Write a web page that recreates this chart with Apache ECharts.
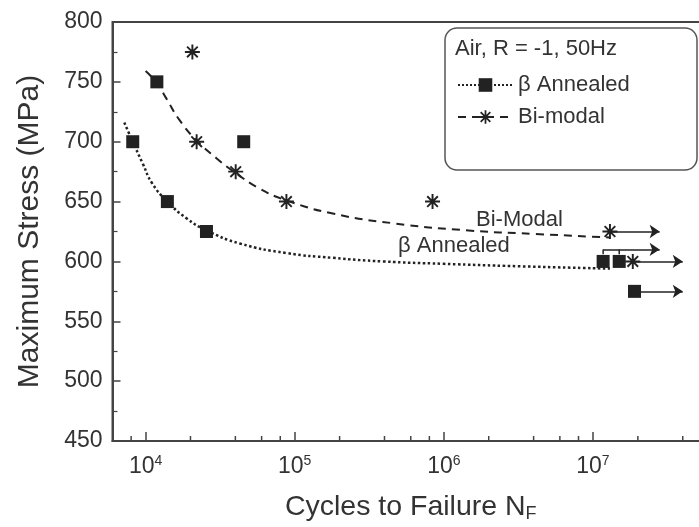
<!DOCTYPE html>
<html><head><meta charset="utf-8">
<script src="https://cdn.jsdelivr.net/npm/echarts@6/dist/echarts.min.js"></script>
<style>html,body{margin:0;padding:0;background:#fff}#c{width:699px;height:527px}</style>
</head><body><div id="c"></div>
<script>
// Measured points
const betaPoints = [[8200,700],[11900,750],[14000,650],[25600,625],[45500,700],[11700000,600],[15000000,600],[19000000,575]];
const bimodalPoints = [[20600,775],[22000,700],[40200,675],[88000,650],[840000,650],[13000000,625],[18500000,600]];
// Fit curves
const betaCurve = [[7200,716],[8200,700],[9550,682],[11100,665],[14000,650],[18800,636],[25600,626],[42800,615],[88000,607],[180000,603],[390000,600],[1000000,598],[3100000,596],[13000000,594]];
const bimodalCurve = [[10000,759],[11900,749],[13800,736],[16900,718],[22000,701],[30000,686],[40000,674],[58000,661],[88000,651],[180000,640],[450000,632],[1400000,626],[4000000,623],[13000000,620]];
// Run-out arrows
const runoutArrows = [
  [[13000000,625],[28000000,625]],
  [[11700000,610],[28000000,610]],
  [[18500000,600],[40000000,600]],
  [[19000000,575],[40000000,575]]
];
const runoutRisers = [
  [[11700000,606],[11700000,610]],
  [[15000000,606],[15000000,610]]
];
const minorX = [8000,20000,40000,60000,80000,200000,400000,600000,800000,2000000,4000000,6000000,8000000,20000000,40000000];
const yTicks = {min:450,max:800,step:50};

const FONT = 'Liberation Sans, Arial, sans-serif';
const INK = '#222';
const star = 'path://M-1.3,-10L1.3,-10L1.3,10L-1.3,10Z M-10,-1.3L10,-1.3L10,1.3L-10,1.3Z M-6.2,-8L8,6.2L6.2,8L-8,-6.2Z M6.2,-8L8,-6.2L-6.2,8L-8,6.2Z M-3,-3L3,-3L3,3L-3,3Z';

const chart = echarts.init(document.getElementById('c'));
chart.setOption({
  animation:false,
  backgroundColor:'#fff',
  grid:{left:112.5, top:22, right:-10, bottom:86, containLabel:false, outerBoundsMode:'none',
    show:true, borderColor:'#444', borderWidth:2, backgroundColor:'transparent'},
  xAxis:{type:'log', min:6000, max:60000000, logBase:10,
    name:'{a|Cycles to Failure N}{s|F}', nameLocation:'middle', nameGap:50,
    nameTextStyle:{rich:{a:{fontSize:28.5,fontFamily:FONT,color:'#333'}, s:{fontSize:18,fontFamily:FONT,color:'#333',padding:[14,0,0,0]}}},
    axisLine:{lineStyle:{color:'#444',width:2}},
    axisTick:{inside:true,length:9,lineStyle:{color:'#444',width:1.5}},
    splitLine:{show:false}, minorTick:{show:false},
    axisLabel:{margin:13, showMinLabel:false, showMaxLabel:false,
      formatter:function(v){const e=Math.log10(v); if(Math.abs(e-Math.round(e))>1e-6) return ''; return '{b|10}{s|'+Math.round(e)+'}';},
      rich:{b:{fontSize:23,fontFamily:FONT,color:'#333'}, s:{fontSize:14,fontFamily:FONT,color:'#333',padding:[0,0,12,0]}}}
  },
  yAxis:{type:'value', min:yTicks.min, max:yTicks.max, interval:yTicks.step,
    name:'Maximum Stress (MPa)', nameLocation:'middle', nameGap:68,
    nameTextStyle:{fontSize:30,fontFamily:FONT,color:'#333'},
    axisLine:{show:true,lineStyle:{color:'#444',width:2}},
    axisTick:{inside:true,length:8,lineStyle:{color:'#444',width:1.5}},
    minorTick:{show:true,splitNumber:2,length:5,lineStyle:{color:'#444',width:1.2}},
    splitLine:{show:false},
    axisLabel:{margin:10,fontSize:23,fontFamily:FONT,color:'#333'}
  },
  legend:{data:['β Annealed','Bi-modal'], orient:'vertical', left:452, top:69, padding:5,
    itemWidth:55, itemHeight:17, itemGap:10,
    textStyle:{fontSize:22,fontFamily:FONT,color:'#333'}},
  graphic:[
    {type:'rect', shape:{x:445,y:28,width:252,height:142,r:12}, style:{fill:'none',stroke:'#555',lineWidth:1.5}, z:10},
    {type:'text', left:455, top:38, style:{text:'Air, R = -1, 50Hz', font:'22px '+FONT, fill:'#333'}, z:10},
    {type:'text', left:476, top:209, style:{text:'Bi-Modal', font:'22px '+FONT, fill:'#333'}, z:10},
    {type:'text', left:398, top:235, style:{text:'β Annealed', font:'22px '+FONT, fill:'#333'}, z:10}
  ],
  series:[
    {name:'β Annealed', type:'line', data:betaCurve, smooth:0.5, showSymbol:false, symbol:'rect', color:INK,
      lineStyle:{type:'dotted', width:2.5, color:INK}, z:3},
    {name:'Bi-modal', type:'line', data:bimodalCurve, smooth:0.5, showSymbol:false, symbol:star, color:INK,
      lineStyle:{type:[8,6], width:2, color:INK}, z:3},
    {name:'β pts', type:'scatter', data:betaPoints, symbol:'rect', symbolSize:13, itemStyle:{color:INK,opacity:1}, z:5},
    {name:'Bi pts', type:'scatter', data:bimodalPoints, symbol:star, symbolSize:15, itemStyle:{color:INK,opacity:1}, z:5},
    {name:'runout', type:'lines', coordinateSystem:'cartesian2d',
      data:runoutArrows.map(c=>({coords:c})), symbol:['none','arrow'], symbolSize:10,
      lineStyle:{color:INK,width:1.5,opacity:1}, z:4},
    {name:'runout riser', type:'lines', coordinateSystem:'cartesian2d', polyline:true,
      data:runoutRisers.map(c=>({coords:c})), symbol:'none',
      lineStyle:{color:INK,width:1.5,opacity:1}, z:4},
    {name:'minor', type:'scatter', data:minorX.map(v=>[v,yTicks.min]), symbol:'rect', symbolSize:[1.5,5], symbolOffset:[0,-2.5],
      itemStyle:{color:'#444',opacity:1}, silent:true, clip:false, z:6}
  ]
});
</script></body></html>
